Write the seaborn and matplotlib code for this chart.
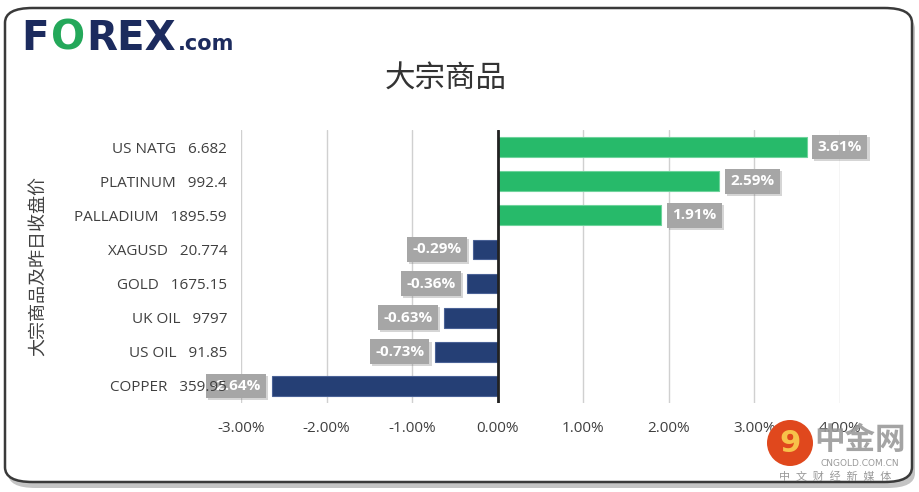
import matplotlib
matplotlib.use("Agg")
import matplotlib.pyplot as plt
import matplotlib.patheffects as pe
from matplotlib.patches import FancyBboxPatch, Circle
from matplotlib.ticker import FuncFormatter
import seaborn as sns

# data
names = ["US NATG", "PLATINUM", "PALLADIUM", "XAGUSD", "GOLD", "UK OIL", "US OIL", "COPPER"]
closes = ["6.682", "992.4", "1895.59", "20.774", "1675.15", "9797", "91.85", "359.95"]
changes = [3.61, 2.59, 1.91, -0.29, -0.36, -0.63, -0.73, -2.64]
labels = [f"{n}   {c}" for n, c in zip(names, closes)]

green = "#27BA6A"
navy = "#253F75"
colors = [green if v > 0 else navy for v in changes]

sns.set_theme(style="white")
plt.rcParams["font.family"] = ["Open Sans", "Noto Sans CJK SC", "DejaVu Sans"]

fig = plt.figure(figsize=(9.2, 4.92), dpi=100)
W, H = 920, 492

# rounded frame with shadow
shadow = FancyBboxPatch((8 / W, 4 / H), 907 / W, 474 / H, boxstyle="round,pad=0,rounding_size=0.03",
                        transform=fig.transFigure, facecolor="#c4c4c4", edgecolor="none", zorder=-3)
frame = FancyBboxPatch((5 / W, 10 / H), 907 / W, 474 / H, boxstyle="round,pad=0,rounding_size=0.03",
                       transform=fig.transFigure, facecolor="white", edgecolor="#3a3a3a", lw=1.8, zorder=-2)
fig.patches.extend([shadow, frame])

ax = fig.add_axes([241 / W, 1 - 403 / H, (840 - 241) / W, (403 - 130) / H])
ax.set_facecolor("none")
sns.barplot(x=changes, y=labels, hue=labels, palette=colors, legend=False, ax=ax,
            width=0.58, orient="h", saturation=1, zorder=2)
for p, c in zip(ax.patches, colors):
    p.set_edgecolor("#6fd39c" if c == green else "#4a6296")
    p.set_linewidth(0.8)

ax.set_xlim(-3, 4)
ax.set_xticks([-3, -2, -1, 0, 1, 2, 3, 4])
ax.xaxis.set_major_formatter(FuncFormatter(lambda v, _: f"{v:.2f}%"))
ax.grid(axis="x", color="#d0d0d0", lw=1)
ax.set_axisbelow(True)
ax.axvline(0, color="#222222", lw=2, zorder=3)
for s in ax.spines.values():
    s.set_visible(False)
ax.tick_params(axis="both", length=0, labelsize=11, colors="#404040")
ax.tick_params(axis="x", pad=13)
ax.tick_params(axis="y", pad=10)
ax.set_ylabel("大宗商品及昨日收盘价", fontsize=13, color="#404040")
ax.yaxis.set_label_coords(-0.323, 0.5)
ax.yaxis.set_zorder(10)

for i, v in enumerate(changes):
    if v > 0:
        x, ha, dx = v, "left", 8
    else:
        x, ha, dx = v, "right", -8
    t = ax.annotate(f"{v:.2f}%", (x, i), xytext=(dx, 0), textcoords="offset points",
                    ha=ha, va="center", fontsize=11, fontweight="bold", color="white", zorder=4,
                    bbox=dict(boxstyle="square,pad=0.35", fc="#a6a6a6", ec="none"))
    t.get_bbox_patch().set_path_effects([pe.SimplePatchShadow(offset=(1.5, -1.5), shadow_rgbFace="#777777", alpha=0.3),
                                         pe.Normal()])

fig.text(446 / W, 1 - 80 / H, "大宗商品", ha="center", va="center", fontsize=22,
         fontweight="medium", color="#333333")

# logo
fig.canvas.draw()
r = fig.canvas.get_renderer()
x = 21 / W
for s, c, fs in [("F", "#1c2b5e", 29), ("O", "#24a85a", 29), ("REX", "#1c2b5e", 29), (".com", "#1c2b5e", 15)]:
    t = fig.text(x, 1 - 50 / H, s, fontsize=fs, fontweight="heavy", color=c, family=["DejaVu Sans"],
                 ha="left", va="baseline")
    bb = t.get_window_extent(r)
    x = (bb.x1 + 2) / W

# watermark
fig.patches.append(Circle((7.90, (H - 443) / 100), 0.23, transform=fig.dpi_scale_trans,
                          facecolor="#e0481d", edgecolor="none"))
fig.text(790 / W, 1 - 443 / H, "9", fontsize=22, fontweight="bold", color="#f7c24a",
         ha="center", va="center", family=["DejaVu Sans"])
fig.text(860 / W, 1 - 441 / H, "中金网", fontsize=22, fontweight="bold", color="#9a9a9a",
         ha="center", va="center", alpha=0.9)
fig.text(860 / W, 1 - 464 / H, "CNGOLD.COM.CN", fontsize=6.5, color="#9a9a9a", ha="center", va="center",
         family=["DejaVu Sans"])
fig.text(835 / W, 1 - 477 / H, "中  文  财  经  新  媒  体", fontsize=8, color="#9a9a9a",
         ha="center", va="center")

fig.savefig("out.png", dpi=100)
